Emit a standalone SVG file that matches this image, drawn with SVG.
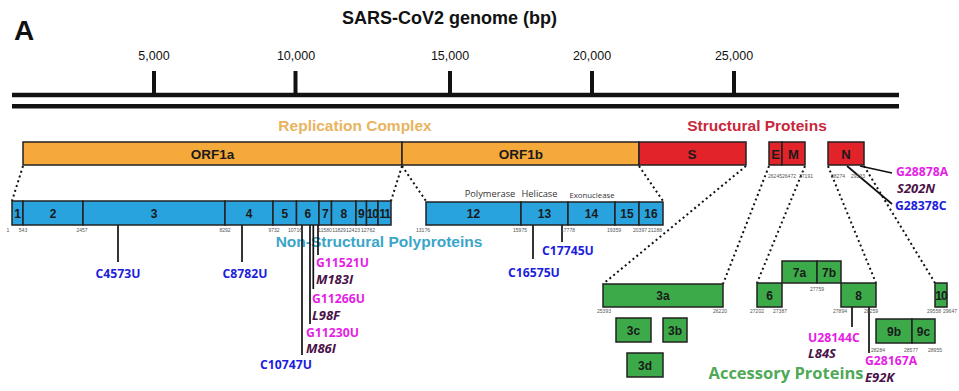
<svg xmlns="http://www.w3.org/2000/svg" width="959" height="391" viewBox="0 0 959 391">
<style>
.bg{fill:#ffffff}
.orf{fill:#f6a93b;stroke:#222;stroke-width:1.5}
.red{fill:#e3232a;stroke:#222;stroke-width:1.5}
.nsp{fill:#29a3de;stroke:#222;stroke-width:1.5}
.acc{fill:#3daa4a;stroke:#222;stroke-width:1.5}
.lbl{font-family:"Liberation Sans",Arial,sans-serif;font-weight:bold;fill:#1a1a1a;text-anchor:middle}
.sm{font-family:"Liberation Sans",Arial,sans-serif;font-size:5px;fill:#555;text-anchor:middle}
.dot{stroke:#111;stroke-width:2;stroke-dasharray:2 3;fill:none}
.mut{stroke:#111;stroke-width:1.7;fill:none}
.blue{font-family:"Open Sans",sans-serif;font-weight:bold;font-size:12.2px;fill:#1d1ddc}
.mag{font-family:"Open Sans",sans-serif;font-weight:bold;font-size:12.2px;fill:#e41ee4}
.aa{font-family:"Open Sans",sans-serif;font-weight:bold;font-style:italic;font-size:13px;fill:#4a1248}
.hdr{font-family:"Liberation Sans",Arial,sans-serif;font-weight:bold;font-size:15.5px;text-anchor:middle}
.tick{font-family:"Liberation Sans",Arial,sans-serif;font-size:12.5px;fill:#111;text-anchor:middle}
.dom{font-family:"Open Sans",sans-serif;fill:#333;text-anchor:middle}
</style>
<rect class="bg" x="0" y="0" width="959" height="391"/>

<g id="title">
<text x="449.5" y="24" font-family="Liberation Sans, Arial, sans-serif" font-weight="bold" font-size="18px" fill="#111" text-anchor="middle">SARS-CoV2 genome (bp)</text>
<text x="14" y="40" font-family="Liberation Sans, Arial, sans-serif" font-weight="bold" font-size="28px" fill="#111">A</text>
</g>

<g id="axis">
<line x1="12" y1="95" x2="899" y2="95" stroke="#111" stroke-width="4.5"/>
<line x1="12" y1="106.3" x2="899" y2="106.3" stroke="#111" stroke-width="4.5"/>
<g stroke="#111" stroke-width="4">
<line x1="154" y1="71" x2="154" y2="94"/>
<line x1="295.5" y1="71" x2="295.5" y2="94"/>
<line x1="450" y1="71" x2="450" y2="94"/>
<line x1="592" y1="71" x2="592" y2="94"/>
<line x1="734" y1="71" x2="734" y2="94"/>
</g>
<text class="tick" x="154" y="60">5,000</text>
<text class="tick" x="296" y="60">10,000</text>
<text class="tick" x="450" y="60">15,000</text>
<text class="tick" x="592" y="60">20,000</text>
<text class="tick" x="734" y="60">25,000</text>
</g>

<g id="headers">
<text class="hdr" x="355" y="131" fill="#e8b460">Replication Complex</text>
<text class="hdr" x="757" y="131" fill="#c8283c">Structural Proteins</text>
<text class="hdr" x="379" y="247" font-size="15.6px" fill="#3ba5c9">Non-Structural Polyproteins</text>
<text x="786" y="379" font-family="Open Sans, sans-serif" font-weight="bold" font-size="16.5px" fill="#4fa957" text-anchor="middle">Accessory Proteins</text>
</g>

<g id="connectors">
<line class="dot" x1="23" y1="166" x2="12" y2="201"/>
<line class="dot" x1="402" y1="166" x2="391" y2="201"/>
<line class="dot" x1="402" y1="166" x2="426" y2="201"/>
<line class="dot" x1="639" y1="166" x2="663" y2="201"/>
<line class="dot" x1="746" y1="166" x2="603" y2="284"/>
<line class="dot" x1="769" y1="166" x2="723" y2="284"/>
<line class="dot" x1="805" y1="166" x2="757" y2="283"/>
<line class="dot" x1="828" y1="166" x2="876" y2="283"/>
<line class="dot" x1="864" y1="166" x2="935" y2="283"/>
<line class="mut" x1="118" y1="225" x2="118" y2="262"/>
<line class="mut" x1="242" y1="225" x2="242" y2="262"/>
<line class="mut" x1="302" y1="225" x2="302" y2="355"/>
<line class="mut" x1="310" y1="225" x2="310" y2="324"/>
<line class="mut" x1="313.3" y1="225" x2="313.3" y2="289"/>
<line class="mut" x1="318" y1="225" x2="318" y2="255"/>
<line class="mut" x1="533" y1="225" x2="533" y2="259"/>
<line class="mut" x1="562" y1="225" x2="562" y2="242"/>
<line class="mut" x1="860" y1="166" x2="892" y2="173"/>
<line class="mut" x1="847" y1="166" x2="892" y2="204"/>
<line class="mut" x1="852" y1="307" x2="852" y2="327"/>
<line class="mut" x1="869" y1="307" x2="869" y2="353"/>
</g>

<g id="ORF1a"><rect class="orf" x="23" y="142" width="379" height="23"/><text class="lbl" x="212.5" y="158.5" font-size="13.5px">ORF1a</text></g>
<g id="ORF1b"><rect class="orf" x="402" y="142" width="237" height="23"/><text class="lbl" x="521" y="158.5" font-size="13.5px">ORF1b</text></g>
<g id="S"><rect class="red" x="639" y="142" width="107" height="23"/><text class="lbl" x="692" y="158.5" font-size="13.5px">S</text></g>
<g id="E"><rect class="red" x="769" y="142" width="13" height="23"/><text class="lbl" x="775.5" y="158.5" font-size="13px">E</text></g>
<g id="M"><rect class="red" x="782" y="142" width="23" height="23"/><text class="lbl" x="793.5" y="158.5" font-size="13px">M</text></g>
<g id="N"><rect class="red" x="828" y="142" width="36" height="23"/><text class="lbl" x="846" y="158.5" font-size="13px">N</text></g>
<g id="EMN-coords">
<text class="sm" x="775" y="178">26245</text><text class="sm" x="789" y="178">26472</text><text class="sm" x="806" y="178">27191</text>
<text class="sm" x="838" y="178">28274</text><text class="sm" x="858" y="178">29533</text>
</g>

<g id="nsp1-11">
<rect class="nsp" x="12" y="201" width="11" height="24"/>
<rect class="nsp" x="23" y="201" width="60" height="24"/>
<rect class="nsp" x="83" y="201" width="142" height="24"/>
<rect class="nsp" x="225" y="201" width="48" height="24"/>
<rect class="nsp" x="273" y="201" width="23.5" height="24"/>
<rect class="nsp" x="296.5" y="201" width="22.5" height="24"/>
<rect class="nsp" x="319" y="201" width="12.5" height="24"/>
<rect class="nsp" x="331.5" y="201" width="24.5" height="24"/>
<rect class="nsp" x="356" y="201" width="10.5" height="24"/>
<rect class="nsp" x="366.5" y="201" width="11.5" height="24"/>
<rect class="nsp" x="378" y="201" width="13" height="24"/>
<g class="lbl" font-size="12px">
<text x="17.5" y="217.5">1</text><text x="53" y="217.5">2</text><text x="154" y="217.5">3</text><text x="249" y="217.5">4</text><text x="284.8" y="217.5">5</text><text x="307.8" y="217.5">6</text><text x="325.3" y="217.5">7</text><text x="343.8" y="217.5">8</text><text x="361.3" y="217.5">9</text><text x="372.3" y="217.5" letter-spacing="-1px">10</text><text x="384.5" y="217.5" letter-spacing="-1px">11</text>
</g>
<g>
<text class="sm" x="8" y="232">1</text><text class="sm" x="23" y="232">543</text><text class="sm" x="82" y="232">2457</text><text class="sm" x="225" y="232">8292</text><text class="sm" x="274" y="232">9732</text><text class="sm" x="295" y="232">10716</text><text class="sm" x="325" y="232">11580</text><text class="sm" x="339" y="232">11829</text><text class="sm" x="353" y="232">12423</text><text class="sm" x="368" y="232">12762</text>
</g>
</g>

<g id="nsp12-16">
<rect class="nsp" x="426" y="202" width="95" height="23"/>
<rect class="nsp" x="521" y="202" width="47" height="23"/>
<rect class="nsp" x="568" y="202" width="47" height="23"/>
<rect class="nsp" x="615" y="202" width="24" height="23"/>
<rect class="nsp" x="639" y="202" width="24" height="23"/>
<g class="lbl" font-size="12px">
<text x="473.5" y="218">12</text><text x="544.5" y="218">13</text><text x="591.5" y="218">14</text><text x="627" y="218">15</text><text x="651" y="218">16</text>
</g>
<text class="dom" x="490" y="197" font-size="9.3px">Polymerase</text>
<text class="dom" x="539.5" y="197" font-size="9.3px">Helicase</text>
<text class="dom" x="592" y="198" font-size="7.8px">Exonuclease</text>
<text class="sm" x="423" y="232">13176</text><text class="sm" x="520" y="232">15975</text><text class="sm" x="568" y="232">17778</text><text class="sm" x="614" y="232">19359</text><text class="sm" x="640" y="232">20397</text><text class="sm" x="655" y="232">21288</text>
</g>

<g id="acc3a"><rect class="acc" x="603" y="284" width="120" height="23"/><text class="lbl" x="663" y="300" font-size="12px">3a</text></g>
<g id="acc3c"><rect class="acc" x="616" y="318" width="35" height="24"/><text class="lbl" x="633.5" y="334.5" font-size="12px">3c</text></g>
<g id="acc3b"><rect class="acc" x="663" y="318" width="24" height="24"/><text class="lbl" x="675" y="334.5" font-size="12px">3b</text></g>
<g id="acc3d"><rect class="acc" x="627" y="353" width="36" height="24"/><text class="lbl" x="645" y="369.5" font-size="12px">3d</text></g>
<g id="acc6"><rect class="acc" x="757" y="283" width="25" height="24"/><text class="lbl" x="769.5" y="299.5" font-size="12px">6</text></g>
<g id="acc7a"><rect class="acc" x="782" y="261" width="35" height="22"/><text class="lbl" x="799.5" y="276.5" font-size="12px">7a</text></g>
<g id="acc7b"><rect class="acc" x="817" y="261" width="24" height="22"/><text class="lbl" x="829" y="276.5" font-size="12px">7b</text></g>
<g id="acc8"><rect class="acc" x="841" y="283" width="35" height="24"/><text class="lbl" x="858.5" y="299.5" font-size="12px">8</text></g>
<g id="acc9b"><rect class="acc" x="876" y="319" width="36" height="24"/><text class="lbl" x="894" y="335.5" font-size="12px">9b</text></g>
<g id="acc9c"><rect class="acc" x="912" y="319" width="23" height="24"/><text class="lbl" x="923.5" y="335.5" font-size="12px">9c</text></g>
<g id="acc10"><rect class="acc" x="935" y="283" width="12" height="24"/><text class="lbl" x="941" y="299.5" font-size="12px" letter-spacing="-1px">10</text></g>
<g id="acc-coords">
<text class="sm" x="604" y="313">25393</text><text class="sm" x="720" y="313">26220</text>
<text class="sm" x="757" y="313">27202</text><text class="sm" x="780" y="313">27387</text>
<text class="sm" x="817" y="291">27759</text>
<text class="sm" x="840" y="313">27894</text><text class="sm" x="871" y="313">28259</text>
<text class="sm" x="934" y="313">29558</text><text class="sm" x="950" y="313">29647</text>
<text class="sm" x="878" y="352">28284</text><text class="sm" x="911" y="352">28577</text><text class="sm" x="935" y="352">28955</text>
</g>

<g id="mutations">
<text class="blue" x="118" y="278" text-anchor="middle">C4573U</text>
<text class="blue" x="245" y="278" text-anchor="middle">C8782U</text>
<text class="blue" x="286" y="369" text-anchor="middle">C10747U</text>
<text class="mag" x="306" y="337">G11230U</text>
<text class="aa" x="306" y="353">M86I</text>
<text class="mag" x="312" y="303">G11266U</text>
<text class="aa" x="312" y="320">L98F</text>
<text class="mag" x="316" y="267">G11521U</text>
<text class="aa" x="316" y="284">M183I</text>
<text class="blue" x="508" y="277">C16575U</text>
<text class="blue" x="542" y="255">C17745U</text>
<text class="mag" x="896" y="176">G28878A</text>
<text class="aa" x="897" y="193">S202N</text>
<text class="blue" x="895" y="210">G28378C</text>
<text class="mag" x="808" y="342">U28144C</text>
<text class="aa" x="808" y="358">L84S</text>
<text class="mag" x="865" y="365">G28167A</text>
<text class="aa" x="865" y="382">E92K</text>
</g>
</svg>
